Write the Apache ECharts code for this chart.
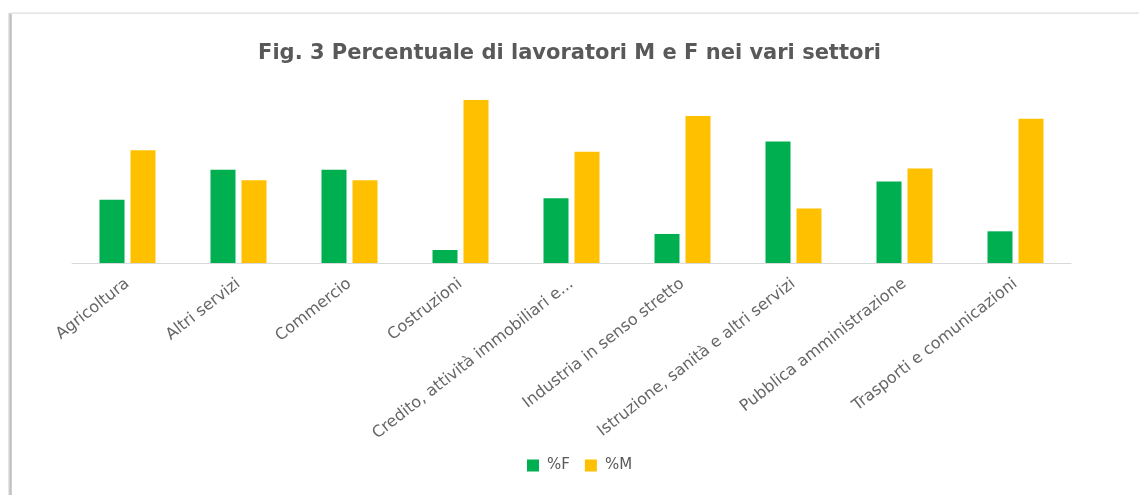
<!DOCTYPE html>
<html>
<head>
<meta charset="utf-8">
<script src="https://cdn.jsdelivr.net/npm/echarts@6/dist/echarts.min.js"></script>
<style>
  html, body { margin: 0; padding: 0; background: #fff; overflow: hidden; }
  #frameLeft {
    position: absolute; left: 8px; top: 13px; width: 4px; height: 490px;
    background: linear-gradient(to right, #f0f0f0, #bdbdbd 60%, #d8d8d8);
  }
  #frameTop {
    position: absolute; left: 10px; top: 12px; right: 0; height: 2px;
    background: linear-gradient(to bottom, #f2f2f2, #e2e2e2);
  }
  #chart { position: absolute; left: 0; top: 0; width: 1139px; height: 495px; }
</style>
</head>
<body>
<div id="frameLeft"></div>
<div id="frameTop"></div>
<div id="chart"></div>
<script>
// settori
const categories = [
  'Agricoltura',
  'Altri servizi',
  'Commercio',
  'Costruzioni',
  'Credito, attività immobiliari e...',
  'Industria in senso stretto',
  'Istruzione, sanità e altri servizi',
  'Pubblica amministrazione',
  'Trasporti e comunicazioni'
];
// percentuali
const valuesF = [36, 53, 53, 7.4, 36.8, 16.5, 69, 46.3, 18];
const valuesM = [64, 47, 47, 92.6, 63.2, 83.5, 31, 53.7, 82];

const myChart = echarts.init(document.getElementById('chart'));
const option = {
  animation: false,
  title: {
    text: 'Fig. 3 Percentuale di lavoratori M e F nei vari settori',
    left: 'center',
    top: 38,
    textStyle: {
      fontFamily: 'DejaVu Sans',
      fontWeight: 'bold',
      fontSize: 21,
      color: '#595959'
    }
  },
  legend: {
    data: ['%F', '%M'],
    left: 522,
    top: 453,
    itemWidth: 12,
    itemHeight: 12,
    itemGap: 15,
    icon: 'rect',
    textStyle: {
      fontFamily: 'DejaVu Sans',
      fontSize: 15,
      color: '#595959',
      padding: [0, 0, 0, 3]
    }
  },
  grid: {
    left: 72,
    right: 68,
    top: 87,
    bottom: 232
  },
  xAxis: {
    type: 'category',
    data: categories,
    axisTick: { show: false },
    axisLine: { lineStyle: { color: '#d9d9d9', width: 1 } },
    axisLabel: {
      rotate: 38,
      interval: 0,
      margin: 19,
      fontFamily: 'DejaVu Sans',
      fontSize: 16,
      color: '#666666'
    }
  },
  yAxis: {
    type: 'value',
    min: 0,
    max: 100,
    show: false,
    splitLine: { show: false }
  },
  series: [
    {
      name: '%F',
      type: 'bar',
      data: valuesF,
      barWidth: 25,
      barGap: '24%',
      itemStyle: { color: '#00B050' }
    },
    {
      name: '%M',
      type: 'bar',
      data: valuesM,
      barWidth: 25,
      itemStyle: { color: '#FFC000' }
    }
  ]
};
myChart.setOption(option);
</script>
</body>
</html>
